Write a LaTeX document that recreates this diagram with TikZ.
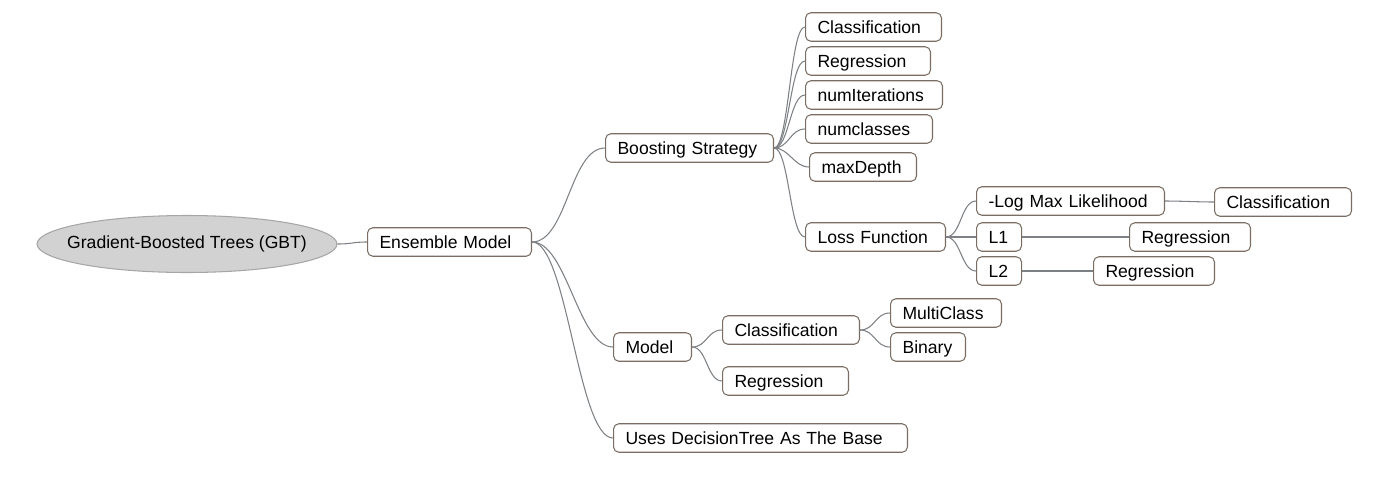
\documentclass[tikz,border=0pt]{standalone}
\usepackage{fontspec}
\setmainfont{Liberation Sans}
\usepackage{xcolor}
\usetikzlibrary{shapes.geometric}

\definecolor{boxLine}{RGB}{122,110,100}
\definecolor{branchGray}{RGB}{125,128,132}
\definecolor{rootFill}{RGB}{210,210,210}

\begin{document}
\begin{tikzpicture}[
    x=0.02cm, y=-0.02cm,
    font=\fontsize{10}{12}\selectfont,
    rootNode/.style={
        ellipse, draw=gray!70, line width=0.6pt, fill=rootFill,
        minimum width=6cm, minimum height=1.14cm, inner sep=0pt
    },
    topicNode/.style={
        rectangle, rounded corners=3pt, draw=boxLine, line width=0.6pt,
        fill=white, anchor=west, align=left, minimum height=0.57cm,
        inner xsep=0.24cm, inner ysep=2pt, text height=8.6pt, text depth=1.6pt
    },
    branchLine/.style={
        draw=branchGray, line width=0.6pt,
        to path={.. controls +(#1,0) and +(-#1,0) .. (\tikztotarget)}
    },
    branchLine/.default=15
]
\useasboundingbox (0,0) rectangle (1380,484);

% Root and first level
\node[rootNode] (gbt) at (187,244) {\makebox[0pt]{Gradient-Boosted Trees (GBT)}};
\node[topicNode, text width=2.8cm] (ensemble) at (367,242) {Ensemble Model};

% Boosting strategy branch
\node[topicNode, text width=2.88cm] (boosting) at (605,148) {Boosting Strategy};
\node[topicNode, text width=2.24cm] (bsClass) at (805,27) {Classification};
\node[topicNode, text width=2.02cm] (bsReg) at (805,61) {Regression};
\node[topicNode, text width=2.26cm] (numIter) at (805,95) {numIterations};
\node[topicNode, text width=2.06cm] (numClass) at (805,129) {numclasses};
\node[topicNode, text width=1.66cm] (maxDepth) at (809,167) {maxDepth};
\node[topicNode, text width=2.32cm] (loss) at (805,237) {Loss Function};

% Loss functions
\node[topicNode, text width=3.28cm] (logLik) at (976,201) {-Log Max Likelihood};
\node[topicNode, text width=2.26cm] (logClass) at (1214,202) {Classification};
\node[topicNode, text width=0.42cm] (lOne) at (976,237) {L1};
\node[topicNode, text width=1.94cm] (lOneReg) at (1129,237) {Regression};
\node[topicNode, text width=0.42cm] (lTwo) at (976,271) {L2};
\node[topicNode, text width=1.94cm] (lTwoReg) at (1093,271) {Regression};

% Model branch
\node[topicNode, text width=1.08cm] (model) at (613,347) {Model};
\node[topicNode, text width=2.26cm] (mClass) at (722,330) {Classification};
\node[topicNode, text width=1.74cm] (multiClass) at (890,313) {MultiClass};
\node[topicNode, text width=1.02cm] (binary) at (890,347) {Binary};
\node[topicNode, text width=2.04cm] (mReg) at (722,381) {Regression};

\node[topicNode, text width=5.4cm] (decTree) at (613,438) {Uses DecisionTree As The Base};

% Branches
\draw[branchLine] (gbt.east) to (ensemble.west);
\draw[branchLine=35] (ensemble.east) to (boosting.west);
\draw[branchLine=35] (ensemble.east) to (model.west);
\draw[branchLine=35] (ensemble.east) to (decTree.west);

\foreach \leaf in {bsClass,bsReg,numIter,numClass,maxDepth,loss}
    \draw[branchLine] (boosting.east) to (\leaf.west);

\foreach \leaf in {logLik,lOne,lTwo}
    \draw[branchLine] (loss.east) to (\leaf.west);
\draw[branchLine] (logLik.east) to (logClass.west);
\draw[branchLine] (lOne.east) to (lOneReg.west);
\draw[branchLine] (lTwo.east) to (lTwoReg.west);

\draw[branchLine] (model.east) to (mClass.west);
\draw[branchLine] (model.east) to (mReg.west);
\draw[branchLine] (mClass.east) to (multiClass.west);
\draw[branchLine] (mClass.east) to (binary.west);

\end{tikzpicture}
\end{document}
